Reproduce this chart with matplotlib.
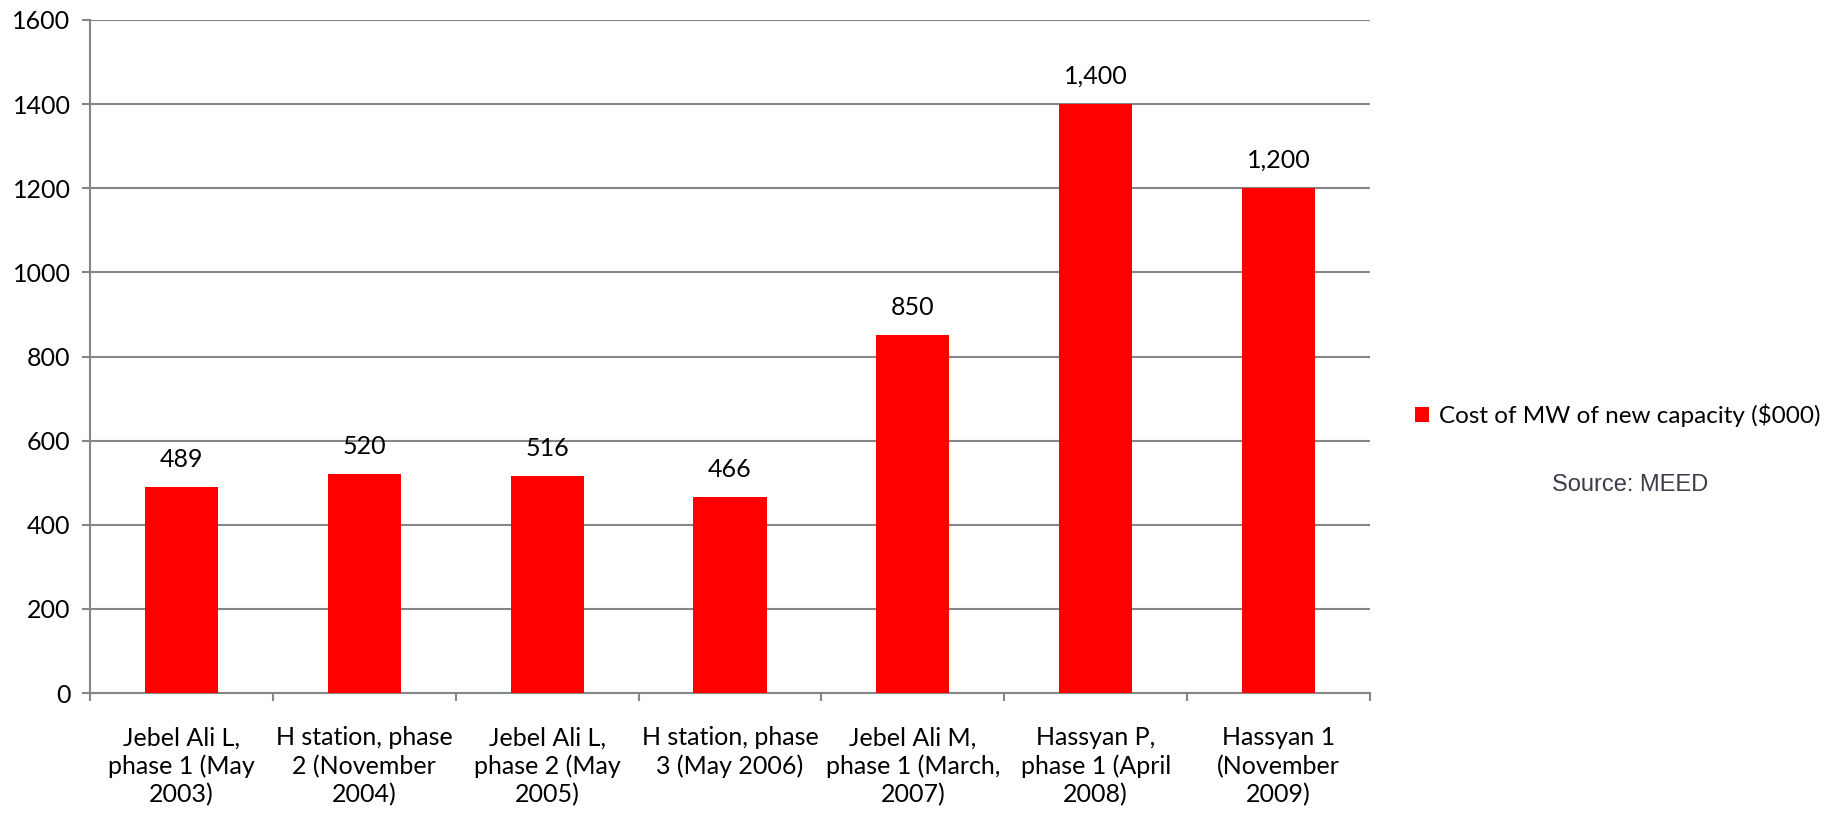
import matplotlib
matplotlib.use("Agg")
import matplotlib.pyplot as plt
from matplotlib.patches import Patch
from matplotlib.ticker import FixedLocator, NullFormatter

plt.rcParams['font.family'] = ['Lato', 'DejaVu Sans']

categories = [
    "Jebel Ali L,\nphase 1 (May\n2003)",
    "H station, phase\n2 (November\n2004)",
    "Jebel Ali L,\nphase 2 (May\n2005)",
    "H station, phase\n3 (May 2006)",
    "Jebel Ali M,\nphase 1 (March,\n2007)",
    "Hassyan P,\nphase 1 (April\n2008)",
    "Hassyan 1\n(November\n2009)",
]
values = [489, 520, 516, 466, 850, 1400, 1200]
series_name = "Cost of MW of new capacity ($000)"
y_ticks = [0, 200, 400, 600, 800, 1000, 1200, 1400, 1600]

bar_color = "#FF0000"
grid_color = "#868686"
fs = 18

fig = plt.figure(figsize=(18.32, 8.13), dpi=100)
ax = fig.add_axes([0.0491, 0.1476, 0.6987, 0.8278])

x = list(range(len(categories)))
ax.bar(x, values, width=0.4, color=bar_color, zorder=3)

ax.set_xlim(-0.5, len(categories) - 0.5)
ax.set_ylim(0, 1600)
ax.set_yticks(y_ticks)
ax.set_yticklabels([str(t) for t in y_ticks], fontsize=fs)
ax.yaxis.grid(True, color=grid_color, linewidth=1.5, zorder=0)

ax.set_xticks(x)
ax.set_xticklabels(categories, fontsize=fs, linespacing=1.27)
ax.tick_params(axis='x', which='major', length=0, pad=24)
ax.xaxis.set_minor_locator(FixedLocator([i - 0.5 for i in range(len(categories) + 1)]))
ax.xaxis.set_minor_formatter(NullFormatter())
ax.tick_params(axis='x', which='minor', length=6, width=1.5, color=grid_color)
ax.tick_params(axis='y', length=6, width=1.5, color=grid_color, pad=8)

for side in ('top', 'right'):
    ax.spines[side].set_visible(False)
for side in ('left', 'bottom'):
    ax.spines[side].set_color(grid_color)
    ax.spines[side].set_linewidth(1.5)

for xi, v in zip(x, values):
    ax.annotate(f"{v:,}", (xi, v), xytext=(0, 20), textcoords='offset points',
                ha='center', va='center', fontsize=fs)

handle = Patch(facecolor=bar_color, edgecolor='none')
fig.legend([handle], [series_name], loc='center left',
           bbox_to_anchor=(0.7724, 0.489), frameon=False, fontsize=17.5,
           borderaxespad=0, borderpad=0,
           handlelength=0.57, handleheight=0.57, handletextpad=0.4)

fig.text(0.890, 0.403, "Source: MEED", family='Liberation Sans', fontsize=17,
         color='#3c3c4a', ha='center', va='center')

fig.savefig("out.png", dpi=100)
